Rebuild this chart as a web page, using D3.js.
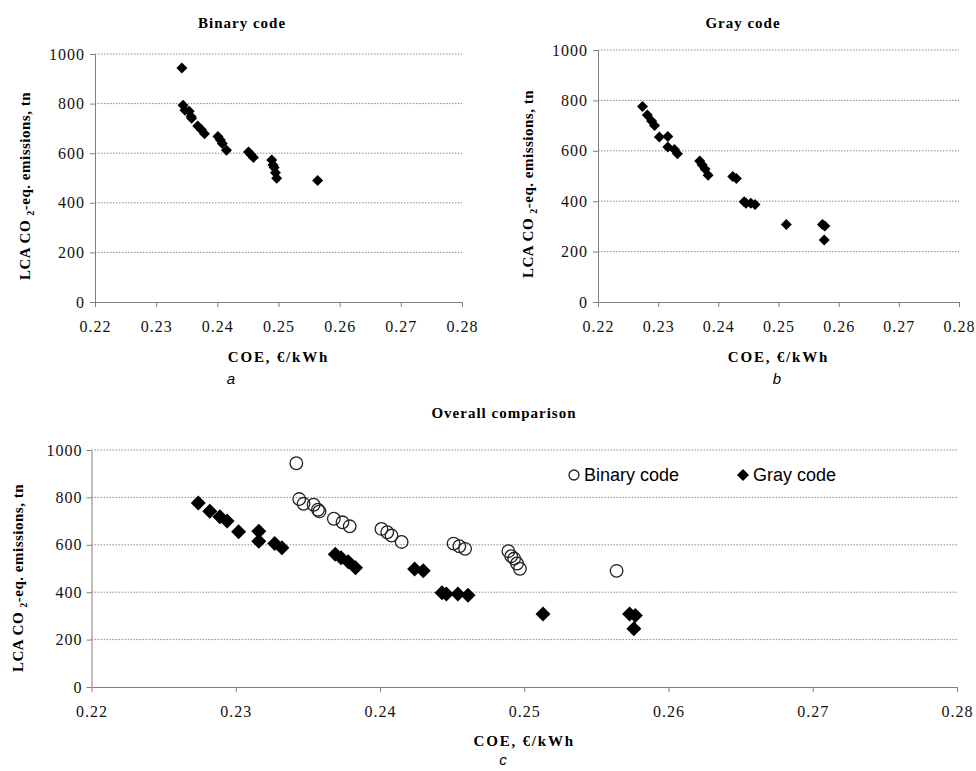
<!DOCTYPE html>
<html>
<head>
<meta charset="utf-8">
<script src="https://cdn.jsdelivr.net/npm/d3@7"></script>
<style>
  body { margin: 0; background: #fff; }
  svg { display: block; }
</style>
</head>
<body>
<div id="chart"></div>
<script>
// Binary code results (COE in €/kWh, LCA CO2-eq. emissions in tn)
var binaryCoe = [0.2342, 0.2344, 0.2347, 0.2354, 0.2357, 0.2358, 0.2368, 0.2374, 0.2379,
                 0.2401, 0.2405, 0.2408, 0.2415, 0.2451, 0.2455, 0.2459, 0.2489, 0.2491,
                 0.2493, 0.2495, 0.2497, 0.2564];
var binaryCo2 = [944, 793, 773, 769, 748, 741, 710, 695, 678,
                 667, 653, 639, 612, 605, 594, 583, 573, 552,
                 542, 521, 499, 490];

// Gray code results
var grayCoe = [0.2274, 0.2282, 0.2289, 0.2294, 0.2302, 0.2316, 0.2316, 0.2327, 0.2332,
               0.2369, 0.2373, 0.2378, 0.2383, 0.2424, 0.2430, 0.2443, 0.2446, 0.2454,
               0.2461, 0.2513, 0.2573, 0.2577, 0.2576];
var grayCo2 = [776, 742, 718, 700, 655, 657, 615, 605, 588,
               560, 545, 528, 503, 498, 490, 398, 392, 392,
               387, 308, 308, 302, 246];

var xTicks = [0.22, 0.23, 0.24, 0.25, 0.26, 0.27, 0.28];
var yTicks = [0, 200, 400, 600, 800, 1000];

var binary = binaryCoe.map(function(d, i) { return { x: d, y: binaryCo2[i] }; });
var gray = grayCoe.map(function(d, i) { return { x: d, y: grayCo2[i] }; });

var svg = d3.select('#chart').append('svg')
    .attr('width', 976)
    .attr('height', 771);

var serif = '"Liberation Serif", "Times New Roman", serif';
var sans = '"Liberation Sans", Arial, sans-serif';

function drawPanel(p) {
    var x = d3.scaleLinear().domain([0.22, 0.28]).range([p.left, p.right]);
    var y = d3.scaleLinear().domain([0, 1000]).range([p.bottom, p.top]);

    // dotted grid
    svg.append('g')
        .selectAll('line')
        .data(yTicks.slice(1))
        .enter()
        .append('line')
        .attr('x1', p.left)
        .attr('x2', p.right)
        .attr('y1', function(d) { return y(d); })
        .attr('y2', function(d) { return y(d); })
        .style('stroke', '#8a8a8a')
        .style('stroke-width', 1)
        .style('stroke-dasharray', '1.5,1.5');

    var xAxis = svg.append('g')
        .attr('transform', 'translate(0,' + p.bottom + ')')
        .call(d3.axisBottom(x).tickValues(xTicks).tickSize(5).tickSizeOuter(0)
            .tickFormat(d3.format('.2f')));
    var yAxis = svg.append('g')
        .attr('transform', 'translate(' + p.left + ',0)')
        .call(d3.axisLeft(y).tickValues(yTicks).tickSize(5).tickSizeOuter(0)
            .tickFormat(d3.format('d')));

    [xAxis, yAxis].forEach(function(a) {
        a.attr('font-family', serif);
        a.select('.domain').style('stroke', '#808080');
        a.selectAll('.tick line').style('stroke', '#808080');
        a.selectAll('.tick text')
            .style('font-family', serif)
            .style('font-size', '16px')
            .style('letter-spacing', '1px')
            .style('fill', '#111');
    });
    xAxis.selectAll('.tick text').attr('dy', '1.35em');
    yAxis.selectAll('.tick text').attr('x', -p.yTickGap);

    // title
    svg.append('text')
        .attr('x', p.titleX)
        .attr('y', p.titleY)
        .attr('text-anchor', 'middle')
        .style('font-family', serif)
        .style('font-weight', 'bold')
        .style('font-size', '15px')
        .style('letter-spacing', '1px')
        .text(p.title);

    // x title
    svg.append('text')
        .attr('x', (p.left + p.right) / 2)
        .attr('y', p.xTitleY)
        .attr('text-anchor', 'middle')
        .style('font-family', serif)
        .style('font-weight', 'bold')
        .style('font-size', '15px')
        .style('letter-spacing', '1.8px')
        .text('COE, €/kWh');

    // y title with subscript
    var yt = svg.append('text')
        .attr('transform', 'translate(' + p.yTitleX + ',' + p.yTitleY + ') rotate(-90)')
        .attr('text-anchor', 'middle')
        .style('font-family', serif)
        .style('font-weight', 'bold')
        .style('font-size', '15px')
        .style('letter-spacing', '0.5px');
    yt.append('tspan').text('LCA CO ');
    yt.append('tspan').attr('dy', 4).style('font-size', '10px').text('2');
    yt.append('tspan').attr('dy', -4).text('-eq. emissions, tn');

    // panel letter
    svg.append('text')
        .attr('x', p.letterX)
        .attr('y', p.letterY)
        .attr('text-anchor', 'middle')
        .style('font-family', sans)
        .style('font-style', 'italic')
        .style('font-size', '15px')
        .text(p.letter);

    return { x: x, y: y };
}

function diamonds(s, data, r) {
    svg.append('g')
        .selectAll('path')
        .data(data)
        .enter()
        .append('path')
        .attr('d', 'M0,' + (-r) + 'L' + r + ',0L0,' + r + 'L' + (-r) + ',0Z')
        .attr('transform', function(d) { return 'translate(' + s.x(d.x) + ',' + s.y(d.y) + ')'; })
        .style('fill', '#000');
}

var a = drawPanel({
    left: 95, right: 462, top: 54, bottom: 302,
    title: 'Binary code', titleX: 242, titleY: 28,
    xTitleY: 362, yTitleX: 30, yTitleY: 186,
    letter: 'a', letterX: 231, letterY: 384, yTickGap: 10
});
diamonds(a, binary, 5.5);

var b = drawPanel({
    left: 598, right: 959, top: 50, bottom: 302,
    title: 'Gray code', titleX: 743, titleY: 28,
    xTitleY: 362, yTitleX: 533, yTitleY: 184,
    letter: 'b', letterX: 777, letterY: 384, yTickGap: 10
});
diamonds(b, gray, 5.5);

var c = drawPanel({
    left: 91.5, right: 957, top: 450, bottom: 687,
    title: 'Overall comparison', titleX: 504, titleY: 418,
    xTitleY: 746, yTitleX: 23, yTitleY: 578,
    letter: 'c', letterX: 503, letterY: 765, yTickGap: 9
});
diamonds(c, gray, 7.5);
svg.append('g')
    .selectAll('circle')
    .data(binary)
    .enter()
    .append('circle')
    .attr('cx', function(d) { return c.x(d.x); })
    .attr('cy', function(d) { return c.y(d.y); })
    .attr('r', 6.3)
    .style('fill', 'none')
    .style('stroke', '#222')
    .style('stroke-width', 1.3);

// legend
var legend = svg.append('g').style('font-family', sans).style('font-size', '18px');
legend.append('circle').attr('cx', 574).attr('cy', 475).attr('r', 5)
    .style('fill', 'none').style('stroke', '#222').style('stroke-width', 1.3);
legend.append('text').attr('x', 584).attr('y', 481).text('Binary code');
legend.append('path').attr('d', 'M743,469L749,475L743,481L737,475Z').style('fill', '#000');
legend.append('text').attr('x', 753).attr('y', 481).text('Gray code');
</script>
</body>
</html>
